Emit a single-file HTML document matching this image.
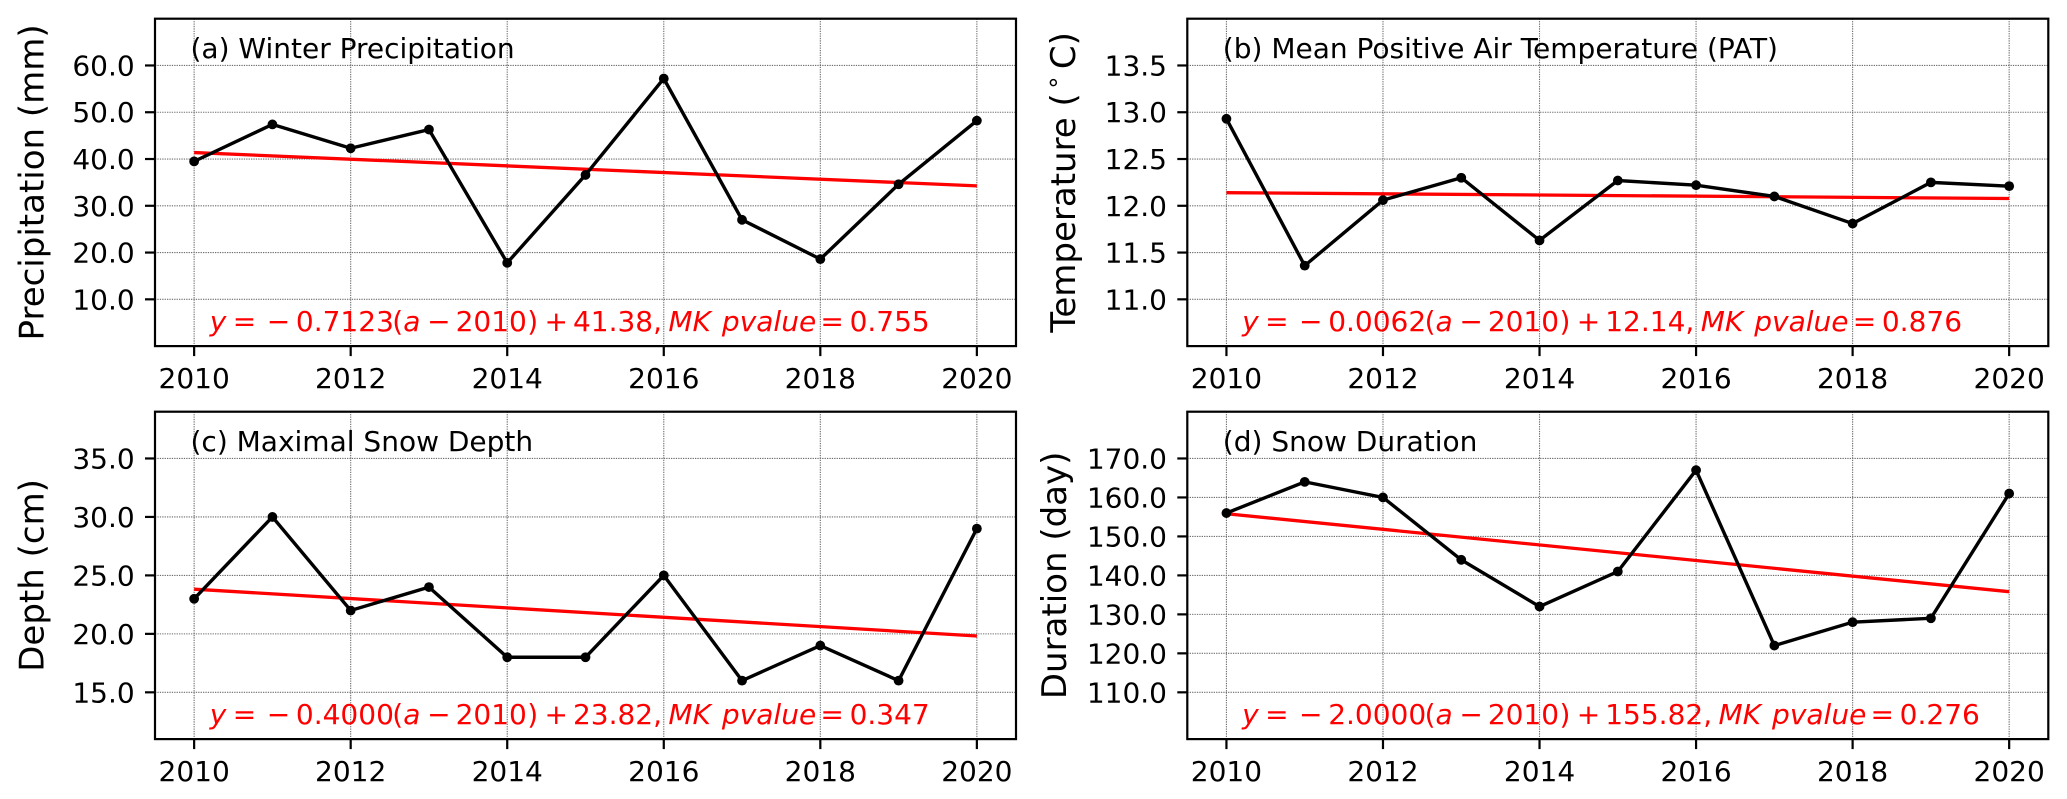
<!DOCTYPE html>
<html lang="en">
<head>
<meta charset="utf-8">
<title>Winter precipitation, air temperature and snow trends 2010-2020</title>
<style>
html,body{margin:0;padding:0;background:#fff;}
svg{display:block;}
text{font-family:"DejaVu Sans","Liberation Sans",sans-serif;fill:#000;}
</style>
</head>
<body>
<svg id="figure" xmlns="http://www.w3.org/2000/svg" width="2067" height="799" viewBox="0 0 2067 799"></svg>
<script>
const years = [2010, 2011, 2012, 2013, 2014, 2015, 2016, 2017, 2018, 2019, 2020];
const xTicks = [2010, 2012, 2014, 2016, 2018, 2020];

const precipValues = [39.5, 47.4, 42.3, 46.3, 17.8, 36.6, 57.2, 27.0, 18.6, 34.6, 48.2];
const tempValues = [12.93, 11.36, 12.06, 12.30, 11.63, 12.27, 12.22, 12.10, 11.81, 12.25, 12.21];
const depthValues = [23, 30, 22, 24, 18, 18, 25, 16, 19, 16, 29];
const durationValues = [156, 164, 160, 144, 132, 141, 167, 122, 128, 129, 161];

const precipTicks = [10, 20, 30, 40, 50, 60];
const tempTicks = [11, 11.5, 12, 12.5, 13, 13.5];
const depthTicks = [15, 20, 25, 30, 35];
const durationTicks = [110, 120, 130, 140, 150, 160, 170];

const precipLimits = [0, 70];
const tempLimits = [10.5, 14];
const depthLimits = [11, 39];
const durationLimits = [98, 182];

const trendSlopes = [-0.7123, -0.0062, -0.4000, -2.0000];
const trendIntercepts = [41.38, 12.14, 23.82, 155.82];
const pValues = ["0.755", "0.876", "0.347", "0.276"];
const panelTitles = ["(a) Winter Precipitation", "(b) Mean Positive Air Temperature (PAT)", "(c) Maximal Snow Depth", "(d) Snow Duration"];
const panelIds = ["precipitation", "temperature", "depth", "duration"];
const yLabels = ["Precipitation (mm)", "Temperature", "Depth (cm)", "Duration (day)"];

const seriesList = [precipValues, tempValues, depthValues, durationValues];
const tickList = [precipTicks, tempTicks, depthTicks, durationTicks];
const limitList = [precipLimits, tempLimits, depthLimits, durationLimits];

const lefts = [155, 1187.3, 155, 1187.3];
const tops = [18.7, 18.7, 411.7, 411.7];
const labelBaselines = [43.3, 1075, 43.3, 1066];
const plotWidth = 861;
const plotHeight = 327.4;
const NS = "http://www.w3.org/2000/svg";
const svg = document.getElementById("figure");

function make(tag, attrs, parent) {
  const el = document.createElementNS(NS, tag);
  for (const k in attrs) el.setAttribute(k, attrs[k]);
  parent.appendChild(el);
  return el;
}

function drawPanel(i) {
  const left = lefts[i], top = tops[i];
  const right = left + plotWidth, bottom = top + plotHeight;
  const lim = limitList[i];
  const values = seriesList[i];
  const id = panelIds[i];
  const x = v => left + (v - 2009.5) / 11 * plotWidth;
  const y = v => bottom - (v - lim[0]) / (lim[1] - lim[0]) * plotHeight;

  const g = make("g", {}, svg);
  
  

  // grid
  xTicks.forEach(t => {
    const line = make("line", {x1: x(t), x2: x(t), y1: top, y2: bottom, stroke: "#6e6e6e", "stroke-width": 1.1, "stroke-dasharray": "1.3 1.1"}, g);
    
    
  });
  tickList[i].forEach(t => {
    const line = make("line", {x1: left, x2: right, y1: y(t), y2: y(t), stroke: "#6e6e6e", "stroke-width": 1.1, "stroke-dasharray": "1.3 1.1"}, g);
    
    
  });

  // trend line
  const fit = v => trendSlopes[i] * (v - 2010) + trendIntercepts[i];
  const first = years[0], last = years[years.length - 1];
  const trend = make("line", {x1: x(first), y1: y(fit(first)), x2: x(last), y2: y(fit(last)), stroke: "#ff0000", "stroke-width": 3.3}, g);
  
  

  // series
  const pts = years.map((yr, k) => x(yr).toFixed(2) + "," + y(values[k]).toFixed(2)).join(" ");
  const poly = make("polyline", {points: pts, fill: "none", stroke: "#000", "stroke-width": 3.4, "stroke-linejoin": "miter"}, g);
  
  
  years.forEach((yr, k) => {
    const dot = make("circle", {cx: x(yr), cy: y(values[k]), r: 4.9, fill: "#000"}, g);
    
    
  });

  // spines
  const frame = make("rect", {x: left, y: top, width: plotWidth, height: plotHeight, fill: "none", stroke: "#000", "stroke-width": 2.2}, g);
  
  

  // x ticks
  xTicks.forEach(t => {
    const tick = make("line", {x1: x(t), x2: x(t), y1: bottom, y2: bottom + 10, stroke: "#000", "stroke-width": 2.2}, g);
    
    
    const label = make("text", {x: x(t), y: bottom + 41.7, "text-anchor": "middle", "font-size": 28}, g);
    
    
    label.textContent = String(t);
  });

  // y ticks
  tickList[i].forEach(t => {
    const tick = make("line", {x1: left - 10, x2: left, y1: y(t), y2: y(t), stroke: "#000", "stroke-width": 2.2}, g);
    
    
    const label = make("text", {x: left - 20.3, y: y(t) + 10, "text-anchor": "end", "font-size": 28}, g);
    
    
    label.textContent = t.toFixed(1);
  });

  // y-axis title
  const cy = top + plotHeight / 2;
  const yTitle = make("text", {x: 0, y: 0, transform: "translate(" + labelBaselines[i] + " " + cy + ") rotate(-90)", "text-anchor": "middle", "font-size": 34}, g);
  
  
  yTitle.appendChild(document.createTextNode(yLabels[i]));
  if (i === 1) {
    make("tspan", {}, yTitle).textContent = " (";
    make("tspan", {dx: 3, dy: -14, "font-size": 24}, yTitle).textContent = "\u2218";
    make("tspan", {dx: 6, dy: 14}, yTitle).textContent = "C)";
  }

  // panel title
  const title = make("text", {x: left + 35.5, y: top + 39.3, "font-size": 28}, g);
  
  
  title.textContent = panelTitles[i];

  // trend equation
  const eq = make("text", {x: x(2010.2), y: bottom - 15.3, "font-size": 28, fill: "#ff0000"}, g);
  
  
  eq.style.fill = "#ff0000";
  const decimals = Math.abs(trendSlopes[i]).toFixed(4);
  const parts = [
    ["y", 1, 0],
    ["=", 0, 6.4],
    ["\u2212", 0, 10.5],
    [decimals, 0, 5.7],
    ["(", 0, -1.6],
    ["a", 1, 0],
    ["\u2212", 0, 6.7],
    ["2010", 0, 5],
    [")", 0, 0.4],
    ["+", 0, 6.3],
    [trendIntercepts[i].toFixed(2) + ",", 0, 5],
    ["MK", 1, 6.4],
    ["pvalue", 1, 11],
    ["=", 0, 4.2],
    [pValues[i], 0, 5.7]
  ];
  parts.forEach(p => {
    const span = make("tspan", {dx: p[2]}, eq);
    if (p[1]) span.setAttribute("font-style", "italic");
    span.textContent = p[0];
  });
}

for (let i = 0; i < 4; i++) drawPanel(i);
</script>
</body>
</html>
